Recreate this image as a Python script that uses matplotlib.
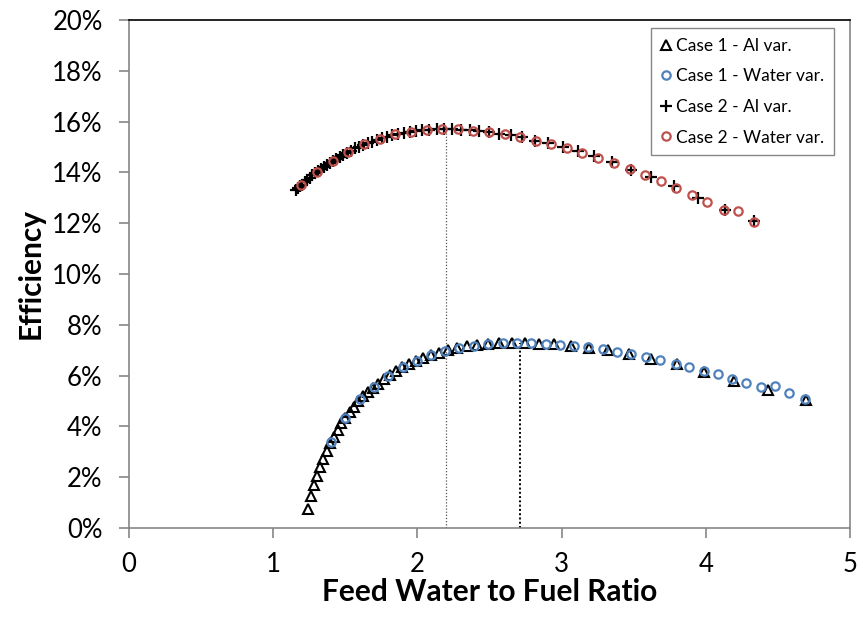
import matplotlib
matplotlib.use("Agg")
import matplotlib.pyplot as plt
from matplotlib.ticker import PercentFormatter, MultipleLocator

plt.rcParams['font.family'] = ['Lato', 'DejaVu Sans']

# ---------------- data (efficiency in %) ----------------
case1_al_x = [1.242, 1.262, 1.282, 1.303, 1.325, 1.347, 1.371, 1.395, 1.420, 1.446,
              1.472, 1.500, 1.529, 1.559, 1.590, 1.623, 1.657, 1.692, 1.729, 1.767,
              1.808, 1.850, 1.894, 1.940, 1.989, 2.040, 2.094, 2.151, 2.210, 2.274,
              2.341, 2.412, 2.488, 2.568, 2.654, 2.746, 2.844, 2.950, 3.064, 3.187,
              3.320, 3.465, 3.623, 3.797, 3.987, 4.198, 4.433, 4.695]
case1_al_y = [0.75, 1.25, 1.68, 2.05, 2.40, 2.72, 3.03, 3.33, 3.60, 3.87,
              4.12, 4.35, 4.56, 4.77, 4.99, 5.18, 5.36, 5.53, 5.69, 5.86,
              6.03, 6.17, 6.32, 6.44, 6.56, 6.69, 6.80, 6.91, 7.01, 7.09,
              7.15, 7.20, 7.24, 7.27, 7.28, 7.28, 7.26, 7.23, 7.18, 7.10,
              6.99, 6.85, 6.66, 6.44, 6.15, 5.80, 5.42, 5.05]

case1_water_x = [1.399, 1.498, 1.600, 1.699, 1.799, 1.898, 1.995, 2.092, 2.189, 2.290,
                 2.390, 2.490, 2.594, 2.693, 2.790, 2.890, 2.987, 3.084, 3.183, 3.287,
                 3.384, 3.484, 3.583, 3.685, 3.791, 3.883, 3.985, 4.083, 4.184, 4.277,
                 4.381, 4.478, 4.577, 4.686]
case1_water_y = [3.40, 4.34, 5.07, 5.56, 6.00, 6.33, 6.57, 6.80, 6.98, 7.10,
                 7.18, 7.24, 7.27, 7.28, 7.27, 7.24, 7.22, 7.17, 7.11, 7.03,
                 6.94, 6.85, 6.72, 6.61, 6.46, 6.33, 6.18, 6.05, 5.88, 5.70,
                 5.54, 5.59, 5.33, 5.07]

case2_al_x = [1.156, 1.171, 1.187, 1.203, 1.220, 1.237, 1.254, 1.272, 1.291, 1.310,
              1.330, 1.350, 1.371, 1.393, 1.415, 1.438, 1.462, 1.487, 1.512, 1.539,
              1.566, 1.594, 1.624, 1.654, 1.685, 1.718, 1.753, 1.788, 1.825, 1.864,
              1.904, 1.946, 1.990, 2.035, 2.083, 2.134, 2.187, 2.242, 2.301, 2.362,
              2.427, 2.496, 2.569, 2.646, 2.727, 2.815, 2.907, 3.006, 3.112, 3.226,
              3.348, 3.480, 3.623, 3.778, 3.946, 4.132, 4.335]
case2_al_y = [13.31, 13.37, 13.45, 13.52, 13.61, 13.70, 13.79, 13.88, 13.97, 14.05,
              14.13, 14.21, 14.29, 14.37, 14.45, 14.53, 14.61, 14.70, 14.78, 14.86,
              14.94, 15.01, 15.08, 15.15, 15.21, 15.28, 15.34, 15.41, 15.47, 15.51,
              15.55, 15.58, 15.62, 15.65, 15.68, 15.71, 15.72, 15.71, 15.68, 15.65,
              15.62, 15.58, 15.52, 15.46, 15.38, 15.25, 15.14, 15.00, 14.83, 14.63,
              14.39, 14.11, 13.80, 13.46, 13.00, 12.52, 12.09]

case2_water_x = [1.196, 1.305, 1.416, 1.521, 1.632, 1.739, 1.847, 1.955, 2.063, 2.171,
                 2.279, 2.386, 2.497, 2.605, 2.712, 2.820, 2.929, 3.038, 3.144, 3.253,
                 3.361, 3.472, 3.578, 3.687, 3.791, 3.904, 4.011, 4.124, 4.226, 4.334]
case2_water_y = [13.49, 14.03, 14.46, 14.81, 15.10, 15.32, 15.50, 15.59, 15.67, 15.72,
                 15.69, 15.64, 15.58, 15.49, 15.41, 15.24, 15.11, 14.95, 14.78, 14.58,
                 14.36, 14.12, 13.90, 13.65, 13.39, 13.11, 12.83, 12.53, 12.48, 12.06]

# optimum markers (vertical dotted lines)
opt_x = [2.20, 2.71]
opt_y = [15.72, 7.28]

labels = ['Case 1 - Al var.', 'Case 1 - Water var.', 'Case 2 - Al var.', 'Case 2 - Water var.']

# ---------------- figure ----------------
fig = plt.figure(figsize=(8.63, 6.22), dpi=100)
ax = fig.add_axes([0.1495, 0.151, 0.8355, 0.817])

BLUE = '#4F81BD'
RED = '#C0504D'

ax.vlines(opt_x[0], 0, opt_y[0], colors='#555555', linestyles=(0, (1, 1.5)), linewidth=0.9, zorder=1)
ax.vlines(opt_x[1], 0, opt_y[1], colors='#000000', linestyles=(0, (1, 1.2)), linewidth=1.4, zorder=1)

h1, = ax.plot(case1_al_x, case1_al_y, linestyle='none', marker='^', markersize=7.5,
              markerfacecolor='none', markeredgecolor='black', markeredgewidth=1.5, zorder=3)
h2, = ax.plot(case1_water_x, case1_water_y, linestyle='none', marker='o', markersize=6,
              markerfacecolor='none', markeredgecolor=BLUE, markeredgewidth=1.6, zorder=4)
h3, = ax.plot(case2_al_x, case2_al_y, linestyle='none', marker='+', markersize=8.5,
              markeredgecolor='black', markeredgewidth=1.6, zorder=3)
h4, = ax.plot(case2_water_x, case2_water_y, linestyle='none', marker='o', markersize=6,
              markerfacecolor='none', markeredgecolor=RED, markeredgewidth=1.6, zorder=4)

ax.set_xlim(0, 5)
ax.set_ylim(0, 20)
ax.xaxis.set_major_locator(MultipleLocator(1))
ax.yaxis.set_major_locator(MultipleLocator(2))
ax.yaxis.set_major_formatter(PercentFormatter(xmax=100, decimals=0))

for s in ['left', 'bottom', 'right']:
    ax.spines[s].set_color('#868686')
    ax.spines[s].set_linewidth(1.2)
ax.spines['top'].set_color('#000000')
ax.spines['top'].set_linewidth(1.2)

ax.tick_params(axis='both', direction='out', length=7, width=1.2, color='#868686',
               labelsize=18.5, labelcolor='black')
ax.tick_params(axis='y', pad=12)
ax.tick_params(axis='x', pad=10)
ax.tick_params(top=False, right=False)

ax.set_xlabel('Feed Water to Fuel Ratio', fontsize=21.5, fontweight='bold', labelpad=1)
ax.set_ylabel('Efficiency', fontsize=21.5, fontweight='bold', labelpad=5)

leg = ax.legend([h1, h2, h3, h4], labels, loc='upper right', bbox_to_anchor=(0.978, 0.984),
                fontsize=12.5, frameon=True, fancybox=False, framealpha=1,
                edgecolor='#868686', handlelength=0.6, handletextpad=0.3,
                borderpad=0.56, labelspacing=0.84, borderaxespad=0)
leg.get_frame().set_linewidth(1.0)

fig.savefig('out.png', dpi=100)
